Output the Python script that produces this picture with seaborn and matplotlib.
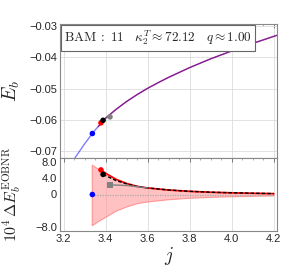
import numpy as np
import pandas as pd
import matplotlib
matplotlib.use("Agg")
import matplotlib.pyplot as plt
import seaborn as sns

# ---- data ----
j_curve = [3.254, 3.30, 3.337, 3.35, 3.375, 3.40, 3.45, 3.50, 3.55, 3.60, 3.65, 3.70, 3.80, 3.90, 4.00, 4.10, 4.216]
Eb_curve = [-0.0721, -0.0676, -0.0643, -0.0632, -0.0613, -0.0594, -0.0566, -0.0541, -0.0519, -0.0499, -0.0481, -0.0464, -0.0433, -0.0405, -0.0380, -0.0356, -0.0330]
j_red = [3.365, 3.375, 3.40, 3.45, 3.50, 3.55, 3.60, 3.65, 3.70, 3.80, 3.90, 4.00, 4.10, 4.216]
Eb_red = [-0.0621, -0.0613, -0.0594, -0.0566, -0.0541, -0.0519, -0.0499, -0.0481, -0.0464, -0.0433, -0.0405, -0.0380, -0.0356, -0.0330]

j_pts = [3.337, 3.378, 3.388, 3.421]
Eb_pts = [-0.0643, -0.0609, -0.0601, -0.0590]
dE_pts = [0.0, 6.0, 4.9, 2.3]
pt_colors = ["blue", "red", "black", "gray"]

j_band = [3.334, 3.36, 3.40, 3.45, 3.50, 3.55, 3.60, 3.70, 3.80, 3.90, 4.00, 4.10, 4.20]
band_hi = [7.3, 6.4, 5.2, 3.7, 2.7, 2.0, 1.6, 1.1, 0.78, 0.56, 0.42, 0.31, 0.22]
band_lo = [-7.5, -6.6, -5.4, -3.9, -2.9, -2.1, -1.7, -1.15, -0.8, -0.58, -0.43, -0.32, -0.23]

j_redd = [3.378, 3.40, 3.45, 3.50, 3.55, 3.60, 3.70, 3.80, 3.90, 4.00, 4.10, 4.20]
dE_red = [6.0, 5.2, 3.7, 2.7, 2.0, 1.6, 1.1, 0.78, 0.56, 0.42, 0.31, 0.22]
j_blk = [3.388, 3.40, 3.45, 3.50, 3.55, 3.60, 3.70, 3.80, 3.90, 4.00, 4.10, 4.20]
dE_blk = [4.9, 4.6, 3.4, 2.6, 1.95, 1.6, 1.1, 0.78, 0.56, 0.42, 0.31, 0.22]
j_gry = [3.421, 3.45, 3.50, 3.55, 3.60]
dE_gry = [2.3, 2.3, 2.2, 1.9, 1.6]
j_zero = [3.337, 4.20]
dE_zero = [0.0, 0.0]

label_text = r"$\mathrm{BAM}\;:\;11\quad \kappa_2^T\approx72.12\quad q\approx1.00$"

# ---- style ----
sns.set_style("whitegrid")
plt.rcParams["font.family"] = ["Liberation Sans", "DejaVu Sans"]
plt.rcParams["mathtext.fontset"] = "cm"

fig = plt.figure(figsize=(2.83, 2.77), dpi=100)
ax1 = fig.add_axes([60/283, 1-158/277, 217/283, 134/277])
ax2 = fig.add_axes([60/283, 1-231/277, 217/283, 73/277], sharex=ax1)

grid_kw = dict(color="#dddddd", lw=0.6)
for ax in (ax1, ax2):
    ax.grid(True, **grid_kw)
    for s in ax.spines.values():
        s.set_color("#888888")
        s.set_linewidth(0.8)
    ax.tick_params(direction="in", length=3, width=0.6, color="#666666",
                   labelsize=8, pad=2, top=True, right=False)
    ax.tick_params(which="minor", direction="in", length=1.5, width=0.5, color="#888888",
                   top=True)

# top panel
sns.lineplot(x=j_red, y=Eb_red, ax=ax1, color="red", lw=0.9, sort=False)
sns.lineplot(x=j_curve, y=Eb_curve, ax=ax1, color="#3030ff", lw=1.0, alpha=0.62, sort=False)
sns.scatterplot(x=j_pts, y=Eb_pts, hue=pt_colors, palette={c: c for c in pt_colors},
                ax=ax1, s=16, edgecolor="none", legend=False, zorder=5)
ax1.set_xlim(3.183, 4.216)
ax1.set_ylim(-0.0721, -0.0294)
ax1.set_yticks([-0.07, -0.06, -0.05, -0.04, -0.03])
ax1.set_yticklabels(["\u22120.07", "\u22120.06", "\u22120.05", "\u22120.04", "\u22120.03"])
ax1.yaxis.set_minor_locator(matplotlib.ticker.MultipleLocator(0.002))
ax1.xaxis.set_minor_locator(matplotlib.ticker.MultipleLocator(0.05))
ax1.tick_params(labelbottom=False)
ax1.set_ylabel(r"$E_b$", fontsize=14, labelpad=2)
ax1.set_xlabel("")
ax1.text(0.02, 0.965, label_text, transform=ax1.transAxes, fontsize=9.5, va="top", ha="left",
         bbox=dict(boxstyle="square,pad=0.25", fc="white", ec="#666666", lw=0.8))

# bottom panel
ax2.fill_between(j_band, band_lo, band_hi, color="#ff9999", alpha=0.6, lw=0.8, edgecolor="#ff6666")
sns.lineplot(x=j_zero, y=dE_zero, ax=ax2, color="#aaaaaa", lw=0.9, linestyle=(0, (1, 1)))
sns.lineplot(x=j_redd, y=dE_red, ax=ax2, color="red", lw=1.2)
sns.lineplot(x=j_blk, y=dE_blk, ax=ax2, color="black", lw=1.0, linestyle=(0, (2.5, 1.5)))
sns.lineplot(x=j_gry, y=dE_gry, ax=ax2, color="gray", lw=1.0)
sns.scatterplot(x=j_pts, y=dE_pts, hue=pt_colors, palette={c: c for c in pt_colors},
                style=pt_colors, markers={"blue": "o", "red": "o", "black": "o", "gray": "s"},
                ax=ax2, s=16, edgecolor="none", legend=False, zorder=5)
ax2.set_ylim(-8.9, 8.9)
ax2.set_yticks([-8, 0, 4, 8])
ax2.set_yticklabels(["\u22128.0", "0", "4.0", "8.0"])
ax2.set_xticks([3.2, 3.4, 3.6, 3.8, 4.0, 4.2])
ax2.set_xticklabels(["3.2", "3.4", "3.6", "3.8", "4.0", "4.2"])
ax2.xaxis.set_minor_locator(matplotlib.ticker.MultipleLocator(0.05))
ax2.grid(True, axis="x", **grid_kw)
ax2.grid(False, axis="y")
ax2.set_xlabel(r"$j$", fontsize=14, labelpad=1)
ax2.set_ylabel(r"$10^4\,\Delta E_b^{\rm EOBNR}$", fontsize=11.5, labelpad=0)

ax1.yaxis.set_label_coords(-0.175, 0.5)
ax2.yaxis.set_label_coords(-0.17, 0.5)

fig.savefig("out.png", dpi=100)
